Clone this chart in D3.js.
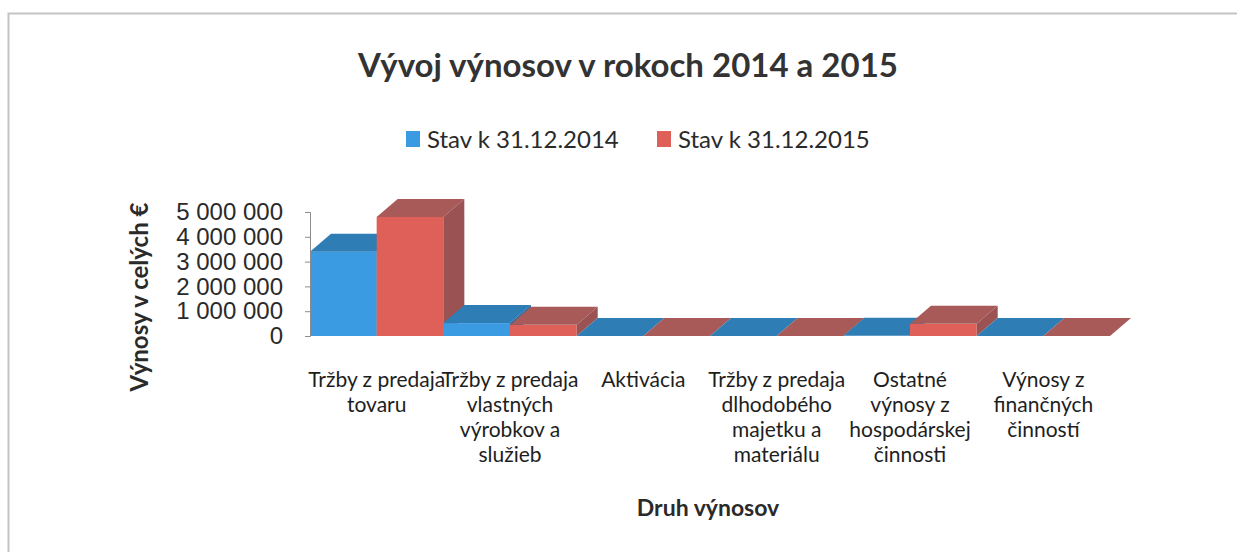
<!DOCTYPE html>
<html>
<head>
<meta charset="utf-8">
<script src="https://cdn.jsdelivr.net/npm/d3@7"></script>
<style>
  body { margin: 0; background: #fff; }
  svg { display: block; font-family: Lato, "Open Sans", sans-serif; }
</style>
</head>
<body>
<div id="chart"></div>
<script>
// data
const categories = [
    "Tržby z predaja\ntovaru",
    "Tržby z predaja\nvlastných\nvýrobkov a\nslužieb",
    "Aktivácia",
    "Tržby z predaja\ndlhodobého\nmajetku a\nmateriálu",
    "Ostatné\nvýnosy z\nhospodárskej\nčinnosti",
    "Výnosy z\nfinančných\nčinností"
];
const seriesNames = ["Stav k 31.12.2014", "Stav k 31.12.2015"];
const values2014 = [3400000, 520000, 0, 0, 10000, 0];
const values2015 = [4800000, 450000, 0, 0, 490000, 0];
const yTicks = [0, 1000000, 2000000, 3000000, 4000000, 5000000];

const width = 1237, height = 552;
const margin = {top: 212, right: 127, bottom: 217, left: 310};
const depth = {dx: 21, dy: 18};
// front, top, side colours per series
const colors = [
    {front: "#3a9ae2", top: "#2e7db5", side: "#276b9c"},
    {front: "#df6058", top: "#a85a59", side: "#9a5352"}
];

const svg = d3.select("#chart").append("svg")
    .attr("width", width)
    .attr("height", height);

// chart frame (only top and left edges show in the picture)
svg.append("path")
    .attr("d", "M8.5," + height + "V13.5H" + width)
    .attr("fill", "none")
    .attr("stroke", "#c4c4c4")
    .attr("stroke-width", 2);

const plotW = width - margin.left - margin.right;
const plotH = height - margin.top - margin.bottom;
const g = svg.append("g")
    .attr("transform", "translate(" + margin.left + "," + margin.top + ")");

const xScale = d3.scaleBand().domain(d3.range(categories.length)).range([0, plotW]).padding(0);
const sScale = d3.scaleBand().domain([0, 1]).range([0, xScale.bandwidth()]).padding(0);
const yScale = d3.scaleLinear().domain([0, 5000000]).range([plotH + 1, 0]);

// bars, painted left to right so later fronts hide earlier sides
const bars = [];
categories.forEach((c, i) => {
    [values2014[i], values2015[i]].forEach((v, s) => bars.push({i, s, v}));
});

const barG = g.selectAll(".barG")
    .data(bars)
    .join("g")
    .attr("class", "barG");

barG.each(function(d) {
    const sel = d3.select(this);
    const x0 = xScale(d.i) + sScale(d.s);
    const x1 = x0 + sScale.bandwidth();
    const y0 = yScale(0);
    const y1 = yScale(d.v);
    const c = colors[d.s];
    if (y0 - y1 > 0.5) {
        sel.append("rect")
            .attr("x", x0).attr("y", y1)
            .attr("width", x1 - x0).attr("height", y0 - y1)
            .attr("fill", c.front);
    }
    // top face
    sel.append("path")
        .attr("d", `M${x0},${y1}L${x1},${y1}L${x1 + depth.dx},${y1 - depth.dy}L${x0 + depth.dx},${y1 - depth.dy}Z`)
        .attr("fill", c.top);
    // right side face
    sel.append("path")
        .attr("d", `M${x1},${y1}L${x1 + depth.dx},${y1 - depth.dy}L${x1 + depth.dx},${y0 - depth.dy}L${x1},${y0}Z`)
        .attr("fill", c.side);
});

// y axis
const yAxis = g.append("g")
    .attr("class", "yAxisG")
    .call(d3.axisLeft(yScale)
        .tickValues(yTicks)
        .tickSize(5)
        .tickPadding(22)
        .tickFormat(v => d3.format(",")(v).replace(/,/g, " ")));
yAxis.select(".domain").attr("stroke", "#8c8c8c");
yAxis.selectAll(".tick line").attr("stroke", "#8c8c8c");
yAxis.selectAll(".tick text")
    .attr("fill", "#2a2a2a")
    .style("font-size", "24px");

// category labels
const labelG = g.selectAll(".catLabel")
    .data(categories)
    .join("text")
    .attr("class", "catLabel")
    .attr("text-anchor", "middle")
    .attr("fill", "#1e1e1e")
    .style("font-size", "21px")
    .attr("transform", (d, i) => "translate(" + (xScale(i) + xScale.bandwidth() / 2) + ",0)");
labelG.selectAll("tspan")
    .data(d => d.split("\n"))
    .join("tspan")
    .attr("x", 0)
    .attr("y", (d, k) => plotH + 52 + k * 25)
    .text(d => d);

// title
svg.append("text")
    .attr("x", 628).attr("y", 77)
    .attr("text-anchor", "middle")
    .attr("fill", "#333")
    .style("font-size", "33px")
    .style("font-weight", "bold")
    .text("Vývoj výnosov v rokoch 2014 a 2015");

// legend
const legendX = [406, 657];
const legend = svg.selectAll(".legendG")
    .data(seriesNames)
    .join("g")
    .attr("class", "legendG")
    .attr("transform", (d, i) => "translate(" + legendX[i] + ",131)");
legend.append("rect")
    .attr("width", 14).attr("height", 16)
    .attr("fill", (d, i) => colors[i].front);
legend.append("text")
    .attr("x", 21).attr("y", 17)
    .attr("fill", "#2a2a2a")
    .style("font-size", "24px")
    .text(d => d);

// axis titles
svg.append("text")
    .attr("transform", "translate(148,297) rotate(-90)")
    .attr("text-anchor", "middle")
    .attr("fill", "#2a2a2a")
    .style("font-size", "24px")
    .style("font-weight", "bold")
    .text("Výnosy v celých €");

svg.append("text")
    .attr("x", 708).attr("y", 516)
    .attr("text-anchor", "middle")
    .attr("fill", "#2a2a2a")
    .style("font-size", "23px")
    .style("font-weight", "bold")
    .text("Druh výnosov");
</script>
</body>
</html>
